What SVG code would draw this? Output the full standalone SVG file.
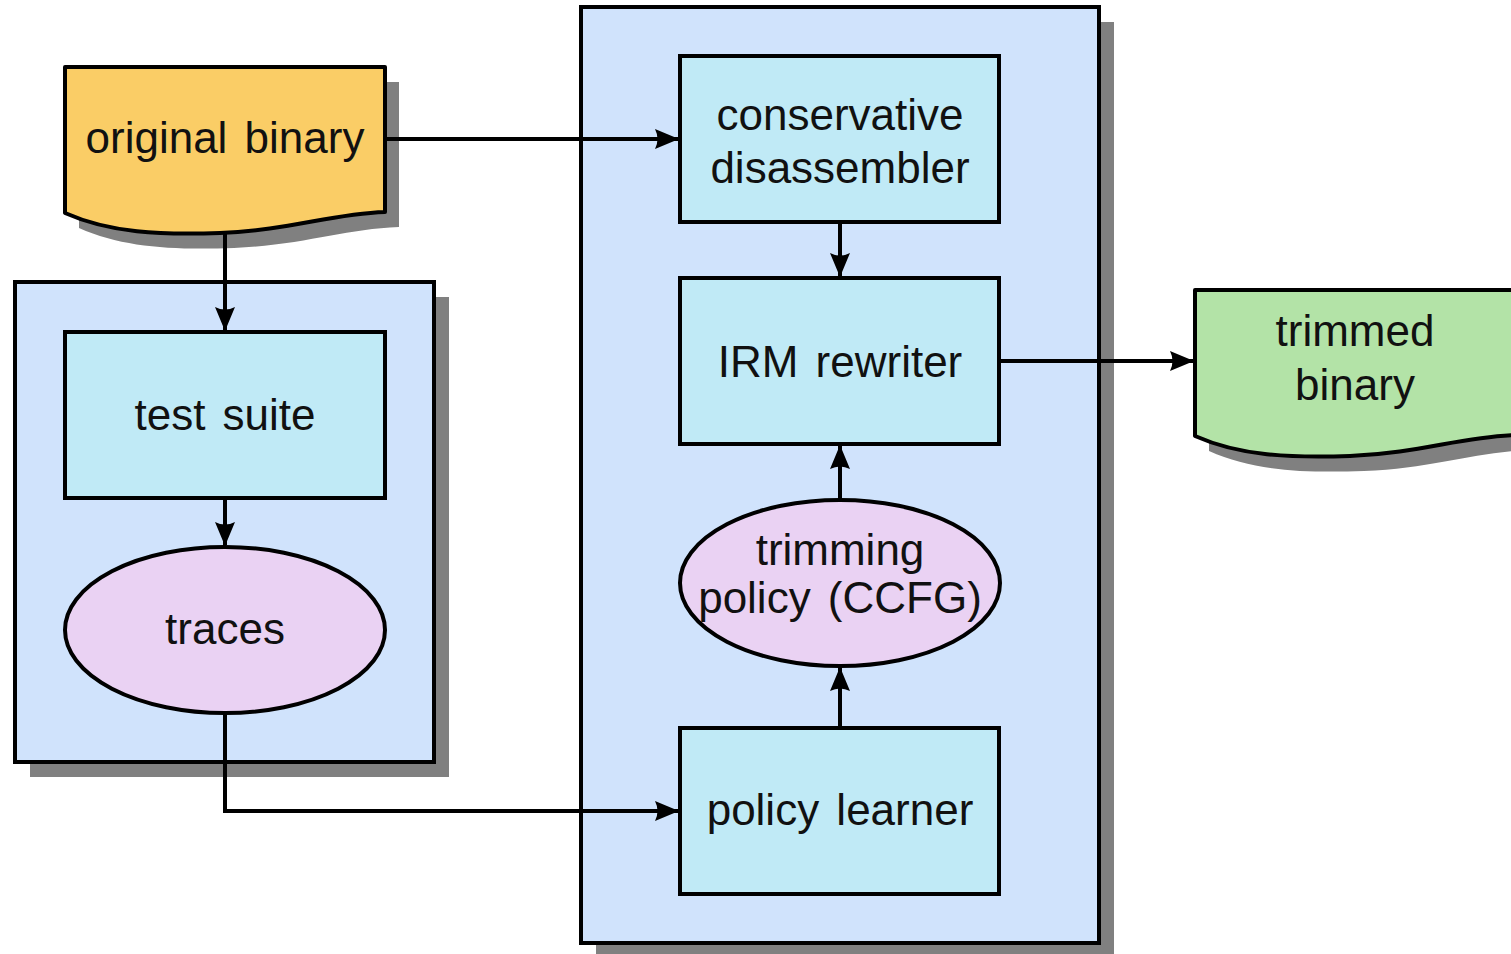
<svg xmlns="http://www.w3.org/2000/svg" width="1511" height="954" viewBox="0 0 1511 954">
<style>
  .shadow { fill: #808080; stroke: none; }
  .group { fill: #D0E3FC; stroke: #000; stroke-width: 4; }
  .box { fill: #C0EAF6; stroke: #000; stroke-width: 4; }
  .ell { fill: #EAD2F3; stroke: #000; stroke-width: 4; }
  .orig { fill: #FACD66; stroke: #000; stroke-width: 4; stroke-linejoin: round; }
  .trim { fill: #B3E3A7; stroke: #000; stroke-width: 4; stroke-linejoin: round; }
  .lbl { font-family: "Liberation Sans", Arial, sans-serif; font-size: 44px; fill: #111; text-anchor: middle; word-spacing: 5px; }
  .edge { fill: none; stroke: #000; stroke-width: 4; }
</style>
<defs>
  <marker id="arr" viewBox="0 0 24 22" refX="23" refY="11" markerWidth="24" markerHeight="22" markerUnits="userSpaceOnUse" orient="auto">
    <path d="M0,1 L24,11 L0,21 Q5,11 0,1 Z" fill="#000"/>
  </marker>
  <path id="doc" d="M0,0 H320 V145 C265,147 225,163 155,166 C95,168 45,166 0,146 Z"/>
</defs>

<g id="group-left">
  <rect class="shadow" x="30" y="297" width="419" height="480"/>
  <rect class="group" x="15" y="282" width="419" height="480"/>
</g>
<g id="group-right">
  <rect class="shadow" x="596" y="22" width="518" height="940"/>
  <rect class="group" x="581" y="7" width="518" height="936"/>
</g>

<g id="original-binary">
  <use href="#doc" class="shadow" x="79" y="82"/>
  <use href="#doc" class="orig" x="65" y="67"/>
  <text class="lbl" x="225" y="153">original binary</text>
</g>

<g id="trimmed-binary">
  <use href="#doc" class="shadow" x="1209" y="305"/>
  <use href="#doc" class="trim" x="1195" y="290"/>
  <text class="lbl" x="1355" y="346">trimmed</text>
  <text class="lbl" x="1355" y="400">binary</text>
</g>

<g id="test-suite">
  <rect class="box" x="65" y="332" width="320" height="166"/>
  <text class="lbl" x="225" y="430">test suite</text>
</g>

<g id="traces">
  <ellipse class="ell" cx="225" cy="630" rx="160" ry="83"/>
  <text class="lbl" x="225" y="644">traces</text>
</g>

<g id="conservative-disassembler">
  <rect class="box" x="680" y="56" width="319" height="166"/>
  <text class="lbl" x="840" y="130">conservative</text>
  <text class="lbl" x="840" y="183">disassembler</text>
</g>

<g id="irm-rewriter">
  <rect class="box" x="680" y="278" width="319" height="166"/>
  <text class="lbl" x="840" y="377">IRM rewriter</text>
</g>

<g id="trimming-policy">
  <ellipse class="ell" cx="840" cy="583" rx="160" ry="83"/>
  <text class="lbl" x="840" y="565">trimming</text>
  <text class="lbl" x="840" y="613">policy (CCFG)</text>
</g>

<g id="policy-learner">
  <rect class="box" x="680" y="728" width="319" height="166"/>
  <text class="lbl" x="840" y="825">policy learner</text>
</g>

<g id="connectors">
  <path class="edge" d="M387,139 H678" marker-end="url(#arr)"/>
  <path class="edge" d="M225,233 V330" marker-end="url(#arr)"/>
  <path class="edge" d="M225,500 V545" marker-end="url(#arr)"/>
  <path class="edge" d="M225,715 V811 H678" marker-end="url(#arr)"/>
  <path class="edge" d="M840,224 V276" marker-end="url(#arr)"/>
  <path class="edge" d="M1001,361 H1193" marker-end="url(#arr)"/>
  <path class="edge" d="M840,498 V446" marker-end="url(#arr)"/>
  <path class="edge" d="M840,726 V668" marker-end="url(#arr)"/>
</g>
</svg>
